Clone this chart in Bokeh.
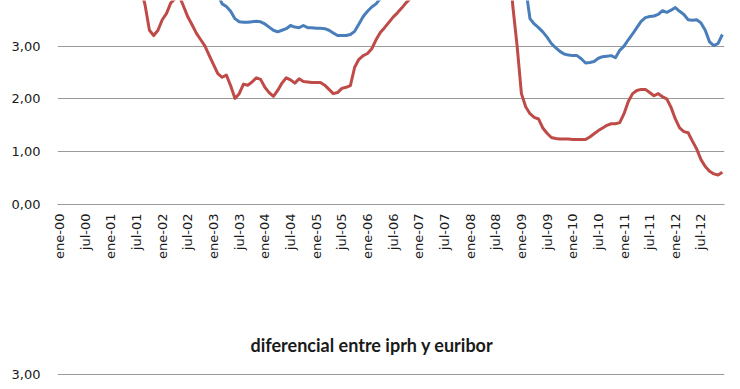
import math
from bokeh.plotting import figure
from bokeh.layouts import column
from bokeh.models import FixedTicker, CustomJSTickFormatter, Range1d
from bokeh.embed import file_html
from bokeh.resources import INLINE

# ---- data (monthly, ene-00 .. dic-12) ----
tick_labels = ["ene-00", "jul-00", "ene-01", "jul-01", "ene-02", "jul-02", "ene-03", "jul-03",
               "ene-04", "jul-04", "ene-05", "jul-05", "ene-06", "jul-06", "ene-07", "jul-07",
               "ene-08", "jul-08", "ene-09", "jul-09", "ene-10", "jul-10", "ene-11", "jul-11",
               "ene-12", "jul-12"]
tick_months = list(range(0, 156, 6))

euribor = [
    3.95, 4.11, 4.27, 4.36, 4.49, 4.86, 5.11, 5.25, 5.22, 5.10, 5.19, 4.88,   # 2000
    4.59, 4.62, 4.58, 4.47, 4.64, 4.44, 4.31, 4.11, 3.77, 3.30, 3.20, 3.30,   # 2001
    3.50, 3.62, 3.82, 3.90, 3.95, 3.75, 3.55, 3.40, 3.24, 3.12, 3.00, 2.82,   # 2002
    2.65, 2.48, 2.41, 2.45, 2.25, 2.01, 2.10, 2.28, 2.26, 2.32, 2.40, 2.37,   # 2003
    2.22, 2.12, 2.05, 2.16, 2.30, 2.40, 2.36, 2.30, 2.38, 2.33, 2.32, 2.31,   # 2004
    2.31, 2.31, 2.26, 2.18, 2.10, 2.12, 2.20, 2.22, 2.25, 2.60, 2.75, 2.82,   # 2005
    2.86, 2.95, 3.12, 3.26, 3.35, 3.45, 3.55, 3.63, 3.72, 3.82, 3.90, 3.96,   # 2006
    4.06, 4.09, 4.11, 4.25, 4.37, 4.51, 4.56, 4.67, 4.73, 4.65, 4.61, 4.79,   # 2007
    4.50, 4.35, 4.59, 4.82, 4.99, 5.36, 5.39, 5.32, 5.38, 4.80, 3.75, 3.00,   # 2008
    2.10, 1.85, 1.72, 1.65, 1.62, 1.45, 1.35, 1.27, 1.25, 1.24, 1.24, 1.24,   # 2009
    1.23, 1.23, 1.23, 1.23, 1.28, 1.34, 1.40, 1.45, 1.50, 1.53, 1.53, 1.55,   # 2010
    1.72, 1.95, 2.10, 2.16, 2.18, 2.18, 2.12, 2.06, 2.10, 2.04, 2.00, 1.84,   # 2011
    1.62, 1.45, 1.38, 1.36, 1.20, 1.05, 0.85, 0.72, 0.63, 0.58, 0.56, 0.61,   # 2012
]

irph = [
    4.95, 5.05, 5.15, 5.30, 5.45, 5.65, 5.80, 5.90, 6.00, 6.05, 6.10, 6.15,   # 2000
    6.05, 5.95, 5.85, 5.75, 5.70, 5.65, 5.60, 5.50, 5.40, 5.25, 5.05, 4.90,   # 2001
    4.85, 4.85, 4.90, 4.95, 5.00, 5.00, 4.95, 4.90, 4.80, 4.65, 4.55, 4.40,   # 2002
    4.20, 3.98, 3.80, 3.75, 3.66, 3.52, 3.46, 3.45, 3.45, 3.46, 3.47, 3.46,   # 2003
    3.42, 3.36, 3.30, 3.27, 3.30, 3.33, 3.39, 3.36, 3.35, 3.39, 3.35, 3.35,   # 2004
    3.34, 3.34, 3.33, 3.30, 3.25, 3.20, 3.20, 3.20, 3.22, 3.28, 3.42, 3.56,   # 2005
    3.66, 3.74, 3.80, 3.90, 4.00, 4.10, 4.20, 4.30, 4.40, 4.50, 4.55, 4.60,   # 2006
    4.70, 4.75, 4.80, 4.90, 5.00, 5.10, 5.20, 5.30, 5.35, 5.40, 5.45, 5.50,   # 2007
    5.60, 5.50, 5.60, 5.70, 5.80, 6.00, 6.20, 6.30, 6.30, 6.20, 6.00, 5.60,   # 2008
    5.00, 4.10, 3.52, 3.42, 3.35, 3.27, 3.17, 3.05, 2.97, 2.90, 2.85, 2.83,   # 2009
    2.82, 2.82, 2.76, 2.68, 2.69, 2.71, 2.77, 2.80, 2.81, 2.82, 2.78, 2.92,   # 2010
    3.00, 3.12, 3.23, 3.35, 3.47, 3.54, 3.56, 3.57, 3.60, 3.67, 3.64, 3.68,   # 2011
    3.73, 3.66, 3.60, 3.50, 3.49, 3.50, 3.44, 3.30, 3.08, 3.01, 3.05, 3.22,   # 2012
]

y_ticks_top = [0, 1, 2, 3, 4]
y_ticks_bottom = [3]

months = list(range(len(euribor)))

GRID = "#9a9a9a"
TEXT = "#1a1a1a"
fmt = CustomJSTickFormatter(code="return tick.toFixed(2).replace('.', ',');")

# ---- top chart ----
p1 = figure(width=740, height=300, output_backend="svg", toolbar_location=None,
            x_range=Range1d(-0.5, 155.5), y_range=Range1d(0, 3.864),
            min_border_left=57, min_border_right=13, min_border_top=0, min_border_bottom=96)
p1.title.visible = False
p1.outline_line_color = None
p1.background_fill_color = "white"
p1.border_fill_color = "white"

p1.line(months, irph, line_color="#4a7ebb", line_width=3, line_join="round")
p1.line(months, euribor, line_color="#be4b48", line_width=3, line_join="round")

p1.xgrid.visible = False
p1.ygrid.ticker = FixedTicker(ticks=y_ticks_top)
p1.ygrid.grid_line_color = GRID

p1.yaxis.ticker = FixedTicker(ticks=y_ticks_top)
p1.yaxis.formatter = fmt
p1.yaxis.axis_line_color = None
p1.yaxis.major_tick_line_color = None
p1.yaxis.minor_tick_line_color = None
p1.yaxis.major_tick_out = 0
p1.yaxis.major_label_standoff = 17
p1.yaxis.major_label_text_font = "DejaVu Sans"
p1.yaxis.major_label_text_font_size = "13px"
p1.yaxis.major_label_text_color = TEXT

p1.xaxis.ticker = FixedTicker(ticks=tick_months)
p1.xaxis.major_label_overrides = dict(zip(tick_months, tick_labels))
p1.xaxis.major_label_orientation = math.pi / 2
p1.xaxis.axis_line_color = GRID
p1.xaxis.major_tick_line_color = None
p1.xaxis.minor_tick_line_color = None
p1.xaxis.major_tick_out = 0
p1.xaxis.major_label_standoff = 9
p1.xaxis.major_label_text_font = "DejaVu Sans"
p1.xaxis.major_label_text_font_size = "13px"
p1.xaxis.major_label_text_color = TEXT

# ---- second chart (only its title and top gridline are in view) ----
p2 = figure(width=740, height=89, output_backend="svg", toolbar_location=None,
            x_range=p1.x_range, y_range=Range1d(2.717, 3.17), x_axis_location=None,
            min_border_left=57, min_border_right=16, min_border_top=65, min_border_bottom=0,
            title="diferencial entre iprh y euribor")
p2.outline_line_color = None
p2.title.align = "left"
p2.title.offset = 193
p2.title.text_font = "Lato"
p2.title.text_font_style = "bold"
p2.title.text_font_size = "18px"
p2.title.text_color = TEXT
p2.title.standoff = 20

p2.xgrid.visible = False
p2.ygrid.ticker = FixedTicker(ticks=y_ticks_bottom)
p2.ygrid.grid_line_color = GRID

p2.yaxis.ticker = FixedTicker(ticks=y_ticks_bottom)
p2.yaxis.formatter = fmt
p2.yaxis.axis_line_color = None
p2.yaxis.major_tick_line_color = None
p2.yaxis.minor_tick_line_color = None
p2.yaxis.major_tick_out = 0
p2.yaxis.major_label_standoff = 17
p2.yaxis.major_label_text_font = "DejaVu Sans"
p2.yaxis.major_label_text_font_size = "13px"
p2.yaxis.major_label_text_color = TEXT

layout = column(p1, p2, spacing=0)
open("out.html", "w").write(file_html(layout, INLINE))
